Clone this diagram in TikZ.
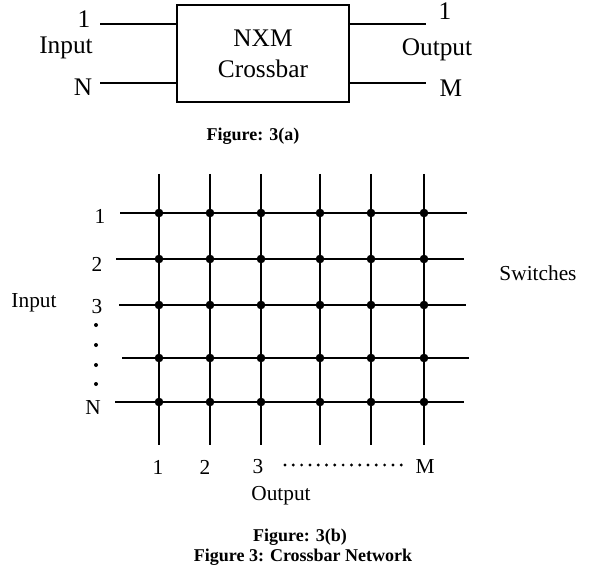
\documentclass[tikz,border=0pt]{standalone}
\usepackage{fontspec}
\setmainfont{Liberation Serif}
\usetikzlibrary{positioning}
\tikzset{
  wire/.style={line width=1.3pt},
  lbl/.style={inner sep=0pt, font=\fontsize{16}{18}\selectfont},
  biglbl/.style={inner sep=0pt, font=\fontsize{19}{21}\selectfont},
  capt/.style={inner sep=0pt, font=\fontsize{13.5}{15}\selectfont\bfseries},
  switch/.style={circle, fill, inner sep=0pt, minimum size=6.5pt}
}
\begin{document}
\begin{tikzpicture}[x=0.75pt, y=-0.75pt]
        \useasboundingbox (0,0) rectangle (591,570);

        % Figura 3(a): bloque del crossbar
        \node[draw, wire, minimum width=129pt, minimum height=72.75pt, biglbl,
              align=center] (xbar) at (263,53.5) {NXM\\[2pt]Crossbar};
        \coordinate (inA) at (100,24);
        \coordinate (inB) at (100,83);
        \coordinate (outA) at (426,24);
        \coordinate (outB) at (426,83);
        \draw[wire] (inA) -- (inA -| xbar.west);
        \draw[wire] (inB) -- (inB -| xbar.west);
        \draw[wire] (outA -| xbar.east) -- (outA);
        \draw[wire] (outB -| xbar.east) -- (outB);

        % Etiquetas de entrada y salida
        \node[biglbl] (inone) at (84,19) {1};
        \node[biglbl] (inlbl) at (66,48) {Input};
        \node[biglbl] (inN) at (83,87) {N};
        \node[biglbl] (outone) at (445,11) {1};
        \node[biglbl] (outlbl) at (437,50) {Output};
        \node[biglbl] (outM) at (451,88) {M};
        \node[capt] (capa) at (253,136) {Figure: 3(a)};

        % Figura 3(b): lineas horizontales (entradas)
        \foreach \y/\xa/\xb [count=\i] in {213/120/467, 259/116/464, 305/119/466, 358/122/469, 402/115/464} {
            \coordinate (r\i w) at (\xa,\y);
            \coordinate (r\i e) at (\xb,\y);
            \draw[wire] (r\i w) -- (r\i e);
        }

        % Lineas verticales (salidas)
        \foreach \x [count=\j] in {159,210,261,320,371,424} {
            \coordinate (c\j n) at (\x,174);
            \coordinate (c\j s) at (\x,445);
            \draw[wire] (c\j n) -- (c\j s);
        }

        % Interruptores en los cruces
        \foreach \i in {1,...,5}
            \foreach \j in {1,...,6}
                \node[switch] (sw\i\j) at (c\j n |- r\i w) {};

        % Etiquetas de filas
        \node[lbl] (rowone) at (100,216) {1};
        \node[lbl] (rowtwo) at (97,264) {2};
        \node[lbl] (rowthree) at (97,307) {3};
        \foreach \y in {325,345,365,384}
            \fill (96,\y) circle (1.5pt);
        \node[lbl] (rowN) at (93,408) {N};
        \node[lbl] (gridin) at (34,303) {Input};
        \node[lbl] (swlbl) at (538,273) {Switches};

        % Etiquetas de columnas
        \node[lbl] (colone) at (158,467) {1};
        \node[lbl] (coltwo) at (205,467) {2};
        \node[lbl] (colthree) at (258,467) {3};
        \node[lbl] (colM) at (425,467) {M};
        \foreach \x in {0,...,14}
            \fill (285+\x*8.3,465) circle (1.2pt);
        \node[lbl] (gridout) at (281,496) {Output};

        % Leyendas
        \node[capt] (capb) at (300,537) {Figure: 3(b)};
        \node[capt] (capmain) at (303,557) {Figure 3: Crossbar Network};
    \end{tikzpicture}
\end{document}
